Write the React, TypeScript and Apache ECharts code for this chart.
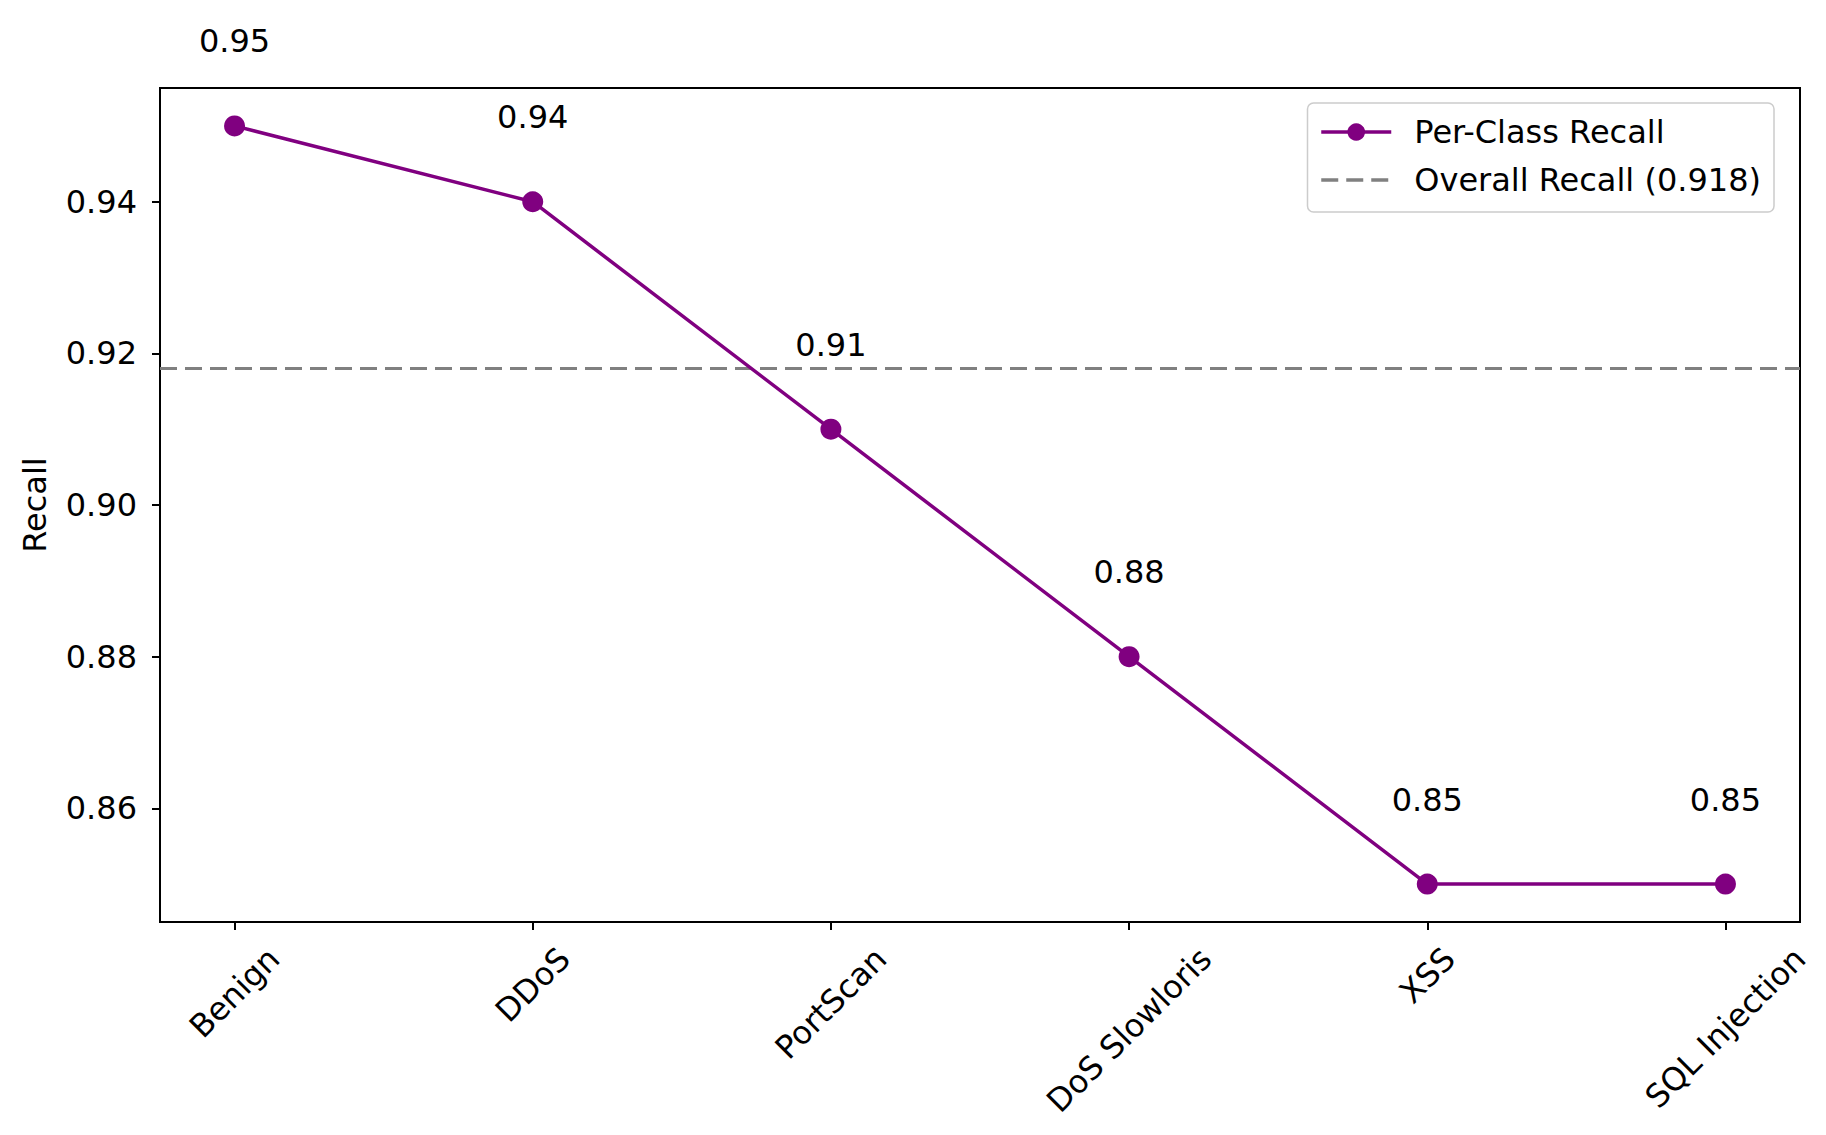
import React, { useEffect, useRef } from "react";
import * as echarts from "echarts";

const categories = ["Benign", "DDoS", "PortScan", "DoS Slowloris", "XSS", "SQL Injection"];
const recallValues = [0.95, 0.94, 0.91, 0.88, 0.85, 0.85];
const overallRecall = 0.918;
const yTicks = [0.86, 0.88, 0.9, 0.92, 0.94];
const seriesNames = ["Per-Class Recall", `Overall Recall (${overallRecall})`];

const FONT = "'DejaVu Sans', sans-serif";
const FS = 32;
const W = 1826;
const H = 1135;

function measure(text: string): number {
  const c = document.createElement("canvas").getContext("2d");
  if (!c) return text.length * FS * 0.6;
  c.font = `${FS}px "DejaVu Sans"`;
  return c.measureText(text).width;
}

export default function App() {
  const ref = useRef<HTMLDivElement>(null);
  useEffect(() => {
    if (!ref.current) return;
    const chart = echarts.init(ref.current, undefined, { renderer: "svg" });

    const n = categories.length;
    const xMin = -0.05 * (n - 1);
    const xMax = n - 1 + 0.05 * (n - 1);
    const vMin = Math.min(...recallValues);
    const vMax = Math.max(...recallValues);
    const yMin = vMin - 0.05 * (vMax - vMin);
    const yMax = vMax + 0.05 * (vMax - vMin);

    const rich: Record<string, any> = {};
    categories.forEach((c, i) => {
      const p = (measure(c) + FS) / 2;
      rich["c" + i] = {
        fontSize: FS,
        fontFamily: FONT,
        color: "#000",
        padding: [p, p, 0, 0],
      };
    });

    const idx = categories.map((_, i) => i);

    chart.setOption({
      animation: false,
      backgroundColor: "#ffffff",
      grid: {
        left: 160,
        right: 26,
        top: 88,
        bottom: 213,
        show: true,
        borderColor: "#000",
        borderWidth: 2,
        backgroundColor: "transparent",
      },
      legend: {
        orient: "vertical",
        right: 52,
        top: 103,
        itemWidth: 70,
        itemHeight: 22,
        itemGap: 16,
        padding: [13, 13, 16, 12],
        borderColor: "#cccccc",
        borderWidth: 1.5,
        borderRadius: 6,
        backgroundColor: "rgba(255,255,255,0.85)",
        textStyle: { fontSize: FS, fontFamily: FONT, color: "#000", padding: [0, 0, 0, 18] },
        data: [
          { name: seriesNames[0], lineStyle: { width: 3.5 } },
          {
            name: seriesNames[1],
            lineStyle: { width: 3.5 },
            itemStyle: { opacity: 0, color: "rgba(0,0,0,0)", borderWidth: 0 },
          },
        ],
      },
      xAxis: {
        type: "value",
        min: xMin,
        max: xMax,
        splitLine: { show: false },
        axisLine: { show: true, onZero: false, lineStyle: { color: "#000", width: 2 } },
        axisTick: { show: true, customValues: idx, length: 8, lineStyle: { color: "#000", width: 2 } },
        axisLabel: {
          customValues: idx,
          rotate: 45,
          align: "center",
          verticalAlign: "middle",
          margin: 20,
          hideOverlap: false,
          formatter: (v: number) => {
            const i = Math.round(v);
            return `{c${i}|${categories[i]}}`;
          },
          rich,
        },
      },
      yAxis: {
        type: "value",
        min: yMin,
        max: yMax,
        name: "Recall",
        nameLocation: "middle",
        nameGap: 109,
        nameTextStyle: { fontSize: FS, fontFamily: FONT, color: "#000" },
        splitLine: { show: false },
        axisLine: { show: true, onZero: false, lineStyle: { color: "#000", width: 2 } },
        axisTick: { show: true, customValues: yTicks, length: 8, lineStyle: { color: "#000", width: 2 } },
        axisLabel: {
          customValues: yTicks,
          margin: 23,
          fontSize: FS,
          fontFamily: FONT,
          color: "#000",
          formatter: (v: number) => v.toFixed(2),
        },
      },
      series: [
        {
          name: seriesNames[1],
          type: "line",
          data: [
            [xMin, overallRecall],
            [xMax, overallRecall],
          ],
          symbol: "none",
          showSymbol: false,
          silent: true,
          color: "#808080",
          lineStyle: { color: "#808080", width: 3, type: [17, 8] },
          z: 1,
        },
        {
          name: seriesNames[0],
          type: "line",
          data: recallValues.map((v, i) => [i, v]),
          symbol: "circle",
          symbolSize: 21,
          color: "#800080",
          itemStyle: { color: "#800080" },
          lineStyle: { color: "#800080", width: 3.5 },
          z: 3,
          label: {
            show: true,
            position: "top",
            distance: 58,
            fontSize: FS,
            fontFamily: FONT,
            color: "#000",
            formatter: (p: any) => (p.value[1] as number).toFixed(2),
          },
        },
      ],
    });
    return () => chart.dispose();
  }, []);

  return (
    <div
      ref={ref}
      style={{ position: "fixed", left: 0, top: 0, width: W, height: H, background: "#fff" }}
    />
  );
}
